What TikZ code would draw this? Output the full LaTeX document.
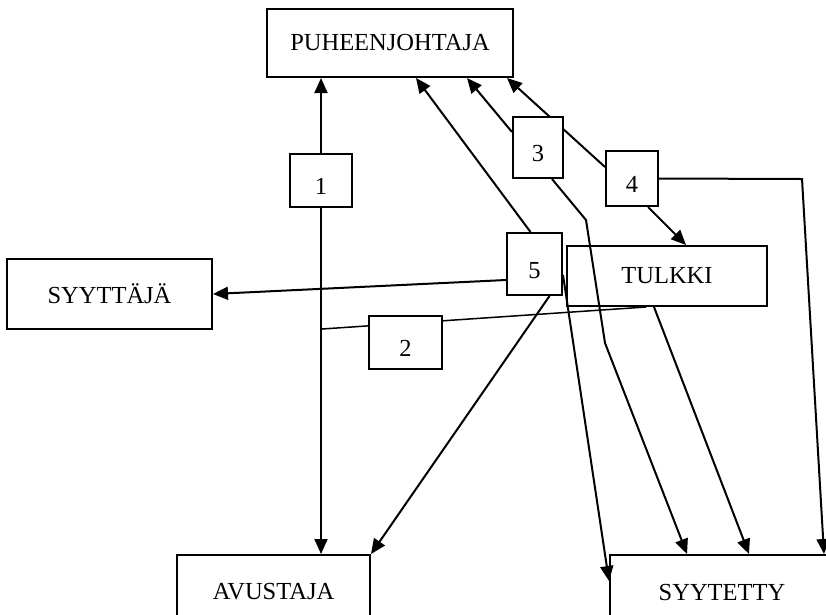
\documentclass[tikz,border=0pt]{standalone}
\usepackage{fontspec}
\setmainfont{Liberation Serif}
\usetikzlibrary{arrows.meta, backgrounds}

\begin{document}
\begin{tikzpicture}[x=1pt, y=-1pt,
    box/.style={draw, line width=2pt, inner sep=0pt,
        font=\fontsize{24.5}{28}\selectfont},
    numBox/.style={box, fill=white, text height=28pt, text depth=0pt},
    link/.style={line width=2pt},
    thinLink/.style={line width=1.5pt},
    arrow/.style={link, -{Triangle[length=15pt, width=13pt]}},
    twoWay/.style={link, {Triangle[length=15pt, width=13pt]}-{Triangle[length=15pt, width=13pt]}}]

    % Page frame
    \clip (0,0) rectangle (826,614);

    % Parties
    \node[box, minimum width=246pt, minimum height=68pt] (puh) at (390,43) {PUHEENJOHTAJA};
    \node[box, minimum width=205pt, minimum height=70pt] (syyttaja) at (109.5,294) {SYYTTÄJÄ};
    \node[box, minimum width=200pt, minimum height=60pt] (tulkki) at (667,276) {TULKKI};
    \node[box, minimum width=193pt, minimum height=74pt] (avustaja) at (273.5,592) {AVUSTAJA};
    \node[box, minimum width=224pt, minimum height=74pt] (syytetty) at (722,592) {SYYTETTY};

    % Numbered channels
    \node[numBox, minimum width=62pt, minimum height=53pt] (n1) at (321,180.5) {1};
    \node[numBox, minimum width=73pt, minimum height=53pt] (n2) at (405.5,342.5) {2};
    \node[numBox, minimum width=50pt, minimum height=61pt] (n3) at (538,147.5) {3};
    \node[numBox, minimum width=52pt, minimum height=55pt] (n4) at (632,178.5) {4};
    \node[numBox, minimum width=55pt, minimum height=62pt] (n5) at (534.5,264) {5};

    % Bends
    \coordinate (j2) at (322,329);
    \coordinate (b3a) at (586,220);
    \coordinate (b3b) at (605,343);
    \coordinate (b4) at (802,179);

    \begin{scope}[on background layer]
        % 1: chair <-> counsel
        \draw[twoWay] (n1 |- puh.south) -- (n1 |- avustaja.north);

        % 2: via interpreter
        \draw[thinLink] (j2) -- ([xshift=80]tulkki.south west);
        \draw[arrow] ([xshift=88]tulkki.south west) -- ([xshift=140]syytetty.north west);

        % 3
        \draw[arrow] ([yshift=-16]n3.north west) -- ([xshift=201]puh.south west);
        \draw[arrow] ([xshift=-12]n3.south east) -- (b3a) -- (b3b) -- ([xshift=78]syytetty.north west);

        % 4
        \draw[arrow] ([yshift=-17]n4.north west) -- ([xshift=241]puh.south west);
        \draw[arrow] ([xshift=16]n4.south) -- ([xshift=120]tulkki.north west);
        \draw[arrow] (n4.east) -- (b4) -- ([xshift=215]syytetty.north west);

        % 5
        \draw[arrow] ([xshift=-4]n5.north) -- ([xshift=150]puh.south west);
        \draw[arrow] ([yshift=-16]n5.west) -- (syyttaja.east);
        \draw[arrow] ([xshift=15]n5.south) -- (avustaja.north east);
        \draw[arrow] ([yshift=-11]n5.east) -- ([yshift=-27]syytetty.north west);
    \end{scope}

\end{tikzpicture}
\end{document}
